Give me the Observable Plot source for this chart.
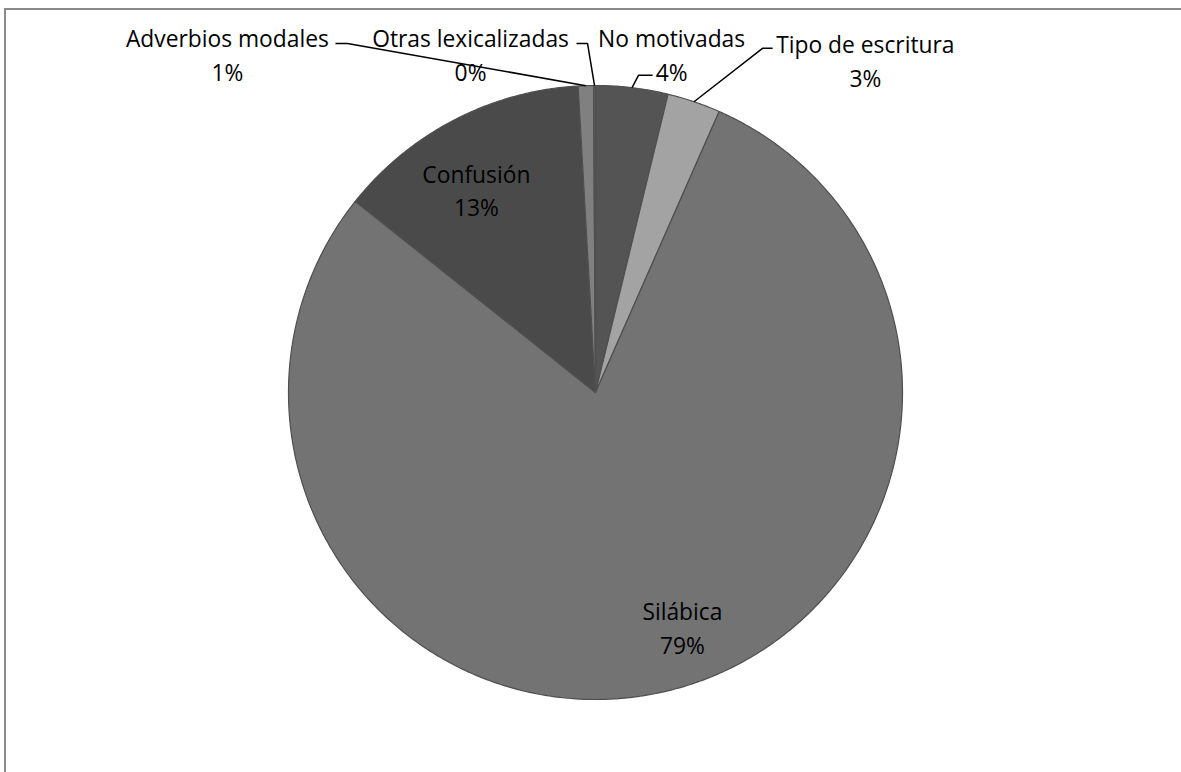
<!DOCTYPE html>
<html>
<head>
<meta charset="utf-8">
<script src="https://cdn.jsdelivr.net/npm/d3@7"></script>
<script src="https://cdn.jsdelivr.net/npm/@observablehq/plot@0.6"></script>
<style>
  html, body { margin: 0; padding: 0; background: #fff; overflow: hidden; }
  body { width: 1181px; height: 772px; position: relative; }
  #frame {
    position: absolute; left: 4px; top: 8px; width: 1300px; height: 900px;
    border-left: 2px solid #8a8a8a; border-top: 2px solid #8a8a8a;
    box-sizing: border-box;
  }
  #chart { position: absolute; left: 0; top: 0; }
</style>
</head>
<body>
<div id="frame"></div>
<div id="chart"></div>
<script>
// Categories, clockwise from 12 o'clock
const categories = ["No motivadas", "Tipo de escritura", "Silábica", "Confusión", "Adverbios modales", "Otras lexicalizadas"];
// Share of each category (%)
const shares = [3.8, 2.8, 79.1, 13.4, 0.8, 0.1];
// Slice fills
const sliceColors = ["#545454", "#a3a3a3", "#737373", "#4a4a4a", "#808080", "#5e5e5e"];

// Label anchors in unit-circle space (pie radius = 1)
const labelAnchor = {
  "No motivadas":        [0.248, 1.104],
  "Tipo de escritura":   [0.879, 1.086],
  "Silábica":            [0.283, -0.762],
  "Confusión":           [-0.388, 0.664],
  "Adverbios modales":   [-1.199, 1.106],
  "Otras lexicalizadas": [-0.407, 1.106]
};
// Leader line elbow and end (unit-circle space) for outside labels
const leaderBend = {
  "No motivadas":        [[0.140, 1.033], [0.186, 1.033]],
  "Tipo de escritura":   [[0.544, 1.121], [0.577, 1.121]],
  "Adverbios modales":   [[-0.808, 1.137], [-0.847, 1.137]],
  "Otras lexicalizadas": [[-0.026, 1.137], [-0.062, 1.137]]
};

const arcs = d3.pie().sort(null).value(d => d)(shares);
const polar = (a, r) => ({x: r * Math.sin(a), y: r * Math.cos(a)});

// Slice outlines as closed polygons: centre, then points along the arc
const slicePts = [];
arcs.forEach((arc, i) => {
  const name = categories[i];
  slicePts.push({name, ...polar(0, 0)});
  const steps = Math.max(2, Math.ceil((arc.endAngle - arc.startAngle) / (Math.PI / 360)));
  for (let k = 0; k <= steps; ++k) {
    const a = arc.startAngle + (arc.endAngle - arc.startAngle) * k / steps;
    slicePts.push({name, ...polar(a, 1)});
  }
});

const labels = arcs.map((arc, i) => ({
  name: categories[i],
  x: labelAnchor[categories[i]][0],
  y: labelAnchor[categories[i]][1],
  text: `${categories[i]}\n${Math.round(shares[i])}%`
}));

const leaders = [];
arcs.forEach((arc, i) => {
  const name = categories[i];
  const bend = leaderBend[name];
  if (!bend) return;
  const mid = (arc.startAngle + arc.endAngle) / 2;
  leaders.push({name, ...polar(mid, 1)});
  bend.forEach(([x, y]) => leaders.push({name, x, y}));
});

const R = 307, cx = 595, cy = 392;
const chart = Plot.plot({
  width: 1181,
  height: 772,
  margin: 0,
  style: {fontFamily: "'Open Sans', Lato, sans-serif", background: "transparent"},
  x: {domain: [-1, 1], range: [cx - R, cx + R], axis: null},
  y: {domain: [-1, 1], range: [cy + R, cy - R], axis: null},
  color: {domain: categories, range: sliceColors},
  marks: [
    Plot.line(slicePts, {x: "x", y: "y", z: "name", fill: "name", stroke: "#4f4f4f", strokeWidth: 1.2, curve: "linear-closed"}),
    Plot.line(leaders, {x: "x", y: "y", z: "name", stroke: "#000", strokeWidth: 1.5, strokeLinecap: "butt", strokeLinejoin: "miter"}),
    Plot.text(labels, {x: "x", y: "y", text: "text", fill: "#000", fontSize: 22.8, lineHeight: 1.49, lineAnchor: "middle"})
  ]
});
document.getElementById("chart").appendChild(chart);
</script>
</body>
</html>
